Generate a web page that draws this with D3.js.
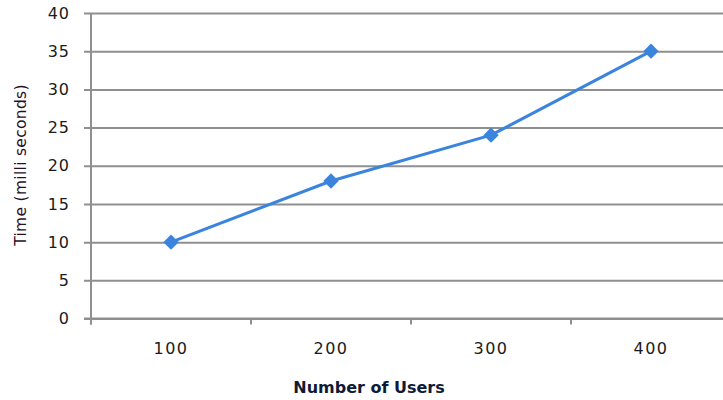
<!DOCTYPE html>
<html>
<head>
<meta charset="utf-8">
<script src="https://cdn.jsdelivr.net/npm/d3@7"></script>
<style>
  html, body { margin: 0; padding: 0; background: #fff; }
  svg { display: block; }
  text { font-family: "DejaVu Sans", Verdana, sans-serif; fill: #1b1b1b; }
</style>
</head>
<body>
<svg id="chart" width="723" height="400"></svg>
<script>
// Response time measured for each user load
const users = ["100", "200", "300", "400"];
const timeMs = [10, 18, 24, 35];
const yTicks = [0, 5, 10, 15, 20, 25, 30, 35, 40];

const svg = d3.select("#chart");
const plot = { left: 91, right: 731, top: 13, bottom: 318.5 };

const x = d3.scaleBand().domain(users).range([plot.left, plot.right]).padding(0);
const y = d3.scaleLinear().domain([0, 40]).range([plot.bottom, plot.top]);

const gridColor = "#8f8f8f";

// Horizontal gridlines with tick labels on the left
const yAxis = d3.axisLeft(y)
  .tickValues(yTicks)
  .tickSize(-(723 - plot.left + 10))
  .tickPadding(14)
  .tickFormat(d3.format("d"));

const gy = svg.append("g")
  .attr("transform", `translate(${plot.left},0)`)
  .call(yAxis);
gy.select(".domain").remove();
gy.selectAll(".tick line")
  .attr("x1", -7)
  .attr("stroke", gridColor)
  .attr("stroke-width", 2);
gy.selectAll(".tick text")
  .attr("x", -21)
  .style("font-size", "16px")
  .style("letter-spacing", "1px")
  .style("fill", "#1b1b1b");

// Vertical axis line
svg.append("line")
  .attr("x1", plot.left).attr("x2", plot.left)
  .attr("y1", plot.top).attr("y2", plot.bottom + 6)
  .attr("stroke", gridColor).attr("stroke-width", 2);

// Category axis: tick marks sit on the band boundaries
const gx = svg.append("g")
  .attr("transform", `translate(0,${plot.bottom})`);
gx.append("line")
  .attr("x1", plot.left - 7).attr("x2", 723)
  .attr("stroke", gridColor).attr("stroke-width", 2);
gx.selectAll("line.tk")
  .data(users)
  .join("line")
  .attr("class", "tk")
  .attr("x1", d => x(d)).attr("x2", d => x(d))
  .attr("y1", 0).attr("y2", 6)
  .attr("stroke", gridColor).attr("stroke-width", 2);
gx.selectAll("text")
  .data(users)
  .join("text")
  .attr("x", d => x(d) + x.bandwidth() / 2)
  .attr("y", 35)
  .attr("text-anchor", "middle")
  .style("font-size", "16px")
  .style("letter-spacing", "1.5px")
  .text(d => d);

// Axis titles
svg.append("text")
  .attr("x", 369).attr("y", 393)
  .attr("text-anchor", "middle")
  .style("font-size", "16px")
  .style("font-weight", "bold")
  .style("fill", "#0f1a35")
  .text("Number of Users");

svg.append("text")
  .attr("transform", "translate(26,165) rotate(-90)")
  .attr("text-anchor", "middle")
  .style("font-size", "15.5px")
  .style("letter-spacing", "0.3px")
  .style("fill", "#2a0f1f")
  .text("Time (milli seconds)");

// Series line and diamond markers
const lineColor = "#3b84de";
const pts = users.map((u, i) => [x(u) + x.bandwidth() / 2, y(timeMs[i])]);

svg.append("path")
  .attr("d", d3.line()(pts))
  .attr("fill", "none")
  .attr("stroke", lineColor)
  .attr("stroke-width", 3);

svg.selectAll("path.marker")
  .data(pts)
  .join("path")
  .attr("class", "marker")
  .attr("transform", d => `translate(${d[0]},${d[1]})`)
  .attr("d", d3.symbol(d3.symbolDiamond2, 150)())
  .attr("fill", lineColor);
</script>
</body>
</html>
